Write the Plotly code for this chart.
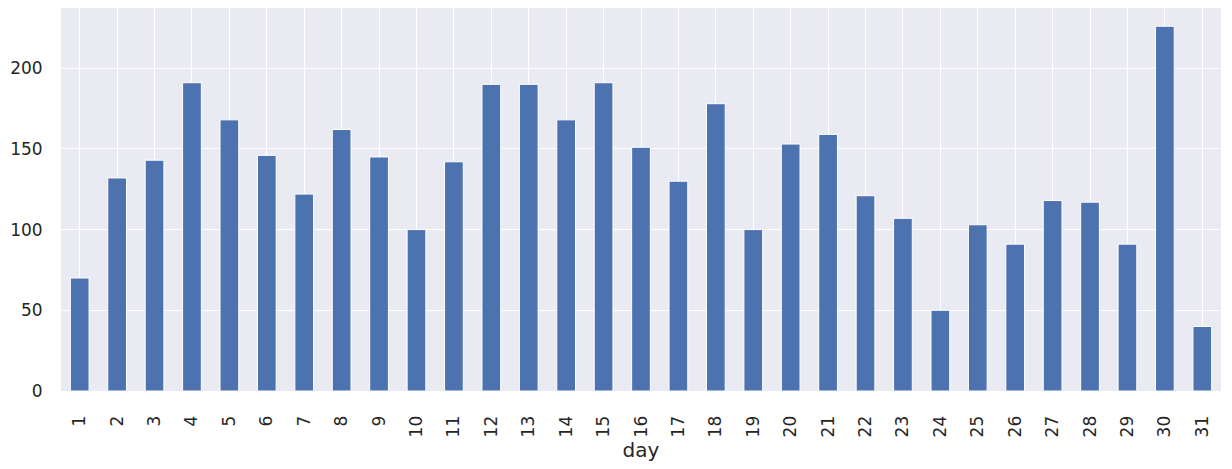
import plotly.graph_objects as go

days = list(range(1, 32))
counts = [70, 132, 143, 191, 168, 146, 122, 162, 145, 100,
          142, 190, 190, 168, 191, 151, 130, 178, 100, 153,
          159, 121, 107, 50, 103, 91, 118, 117, 91, 226, 40]

y_ticks = [0, 50, 100, 150, 200]

fig = go.Figure()
fig.add_trace(go.Bar(
    x=[str(d) for d in days], y=counts,
    width=0.5,
    marker=dict(color='#4C72B0', line=dict(color='white', width=1)),
    showlegend=False
))

fig.update_layout(
    width=1232, height=469,
    margin=dict(l=61, r=11, t=8, b=78),
    plot_bgcolor='#EAEAF2',
    paper_bgcolor='white',
    font=dict(family='DejaVu Sans', size=17, color='#262626'),
)

fig.update_xaxes(
    type='category',
    range=[-0.5, 30.5],
    tickangle=-90,
    showgrid=True, gridcolor='white', gridwidth=1.2,
    ticks='outside', ticklen=17, tickcolor='rgba(0,0,0,0)',
    title=dict(text='day', standoff=6),
    zeroline=False, showline=False,
    automargin=False,
)
fig.update_yaxes(
    range=[0, 237.3],
    tickvals=y_ticks,
    showgrid=True, gridcolor='white', gridwidth=1.2,
    ticks='outside', ticklen=14, tickcolor='rgba(0,0,0,0)',
    zeroline=False, showline=False,
    automargin=False,
)

# page body has an 8px default margin; drop it so the figure sits at 0,0
fig.write_html("out.html", config={'displayModeBar': False},
               post_script="document.body.style.margin='0';")
